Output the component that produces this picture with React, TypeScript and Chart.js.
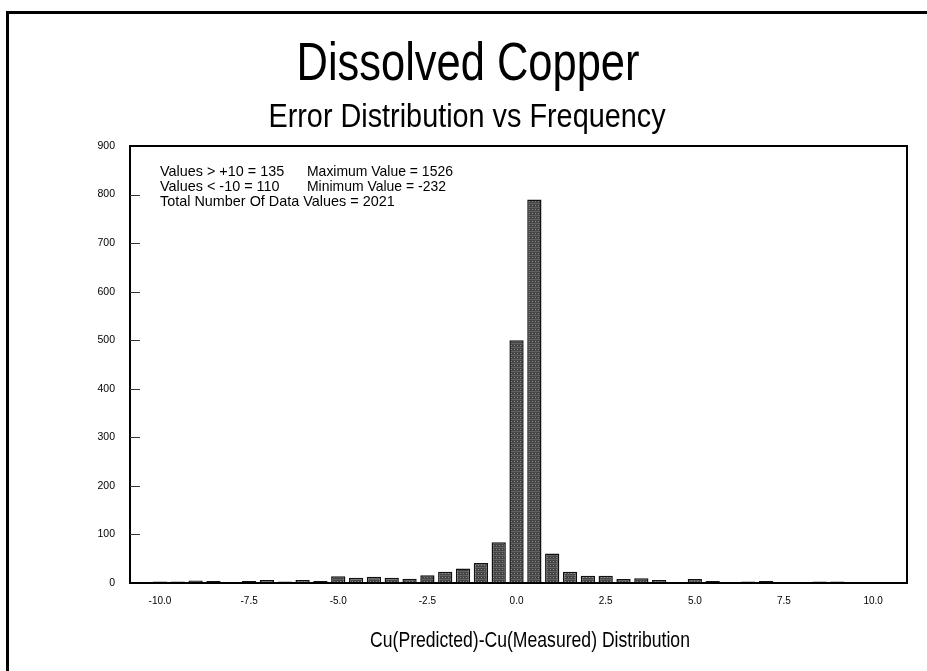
import { useEffect, useRef } from "react";
import { Chart, registerables } from "chart.js";

Chart.register(...registerables);

// Histogram bins (centre of each 0.5-wide bin) and their counts
const binCenters = [
  -10, -9.5, -9, -8.5, -8, -7.5, -7, -6.5, -6, -5.5,
  -5, -4.5, -4, -3.5, -3, -2.5, -2, -1.5, -1, -0.5,
  0, 0.5, 1, 1.5, 2, 2.5, 3, 3.5, 4, 4.5,
  5, 5.5, 6, 6.5, 7, 7.5, 8, 8.5, 9, 9.5, 10,
];
const frequencies = [
  3, 3, 5, 4, 1, 4, 6, 3, 6, 4,
  14, 11, 13, 11, 9, 16, 23, 30, 41, 84,
  500, 790, 61, 23, 15, 15, 8, 10, 6, 1,
  8, 4, 1, 3, 4, 1, 1, 3, 3, 1, 1,
];

const xTickValues = [-10, -7.5, -5, -2.5, 0, 2.5, 5, 7.5, 10];
const yTickValues = [0, 100, 200, 300, 400, 500, 600, 700, 800, 900];

const titleText = "Dissolved Copper";
const subtitleText = "Error Distribution vs Frequency";
const xAxisTitle = "Cu(Predicted)-Cu(Measured) Distribution";
const summaryLeft = ["Values > +10 = 135", "Values < -10 = 110", "Total Number Of Data Values = 2021"];
const summaryRight = ["Maximum Value = 1526", "Minimum Value = -232", ""];

const FONT = '"Liberation Sans", Arial, sans-serif';

function makeBarPattern(): CanvasPattern | string {
  const tile = document.createElement("canvas");
  tile.width = 3;
  tile.height = 4;
  const t = tile.getContext("2d");
  if (!t) return "#555";
  t.fillStyle = "#454545";
  t.fillRect(0, 0, 3, 4);
  t.fillStyle = "#8a8a8a";
  t.fillRect(1, 1, 1, 1);
  t.fillStyle = "#626262";
  t.fillRect(0, 3, 3, 1);
  const ctx = document.createElement("canvas").getContext("2d");
  const p = ctx ? ctx.createPattern(tile, "repeat") : null;
  return p || "#555";
}

function drawCondensed(
  ctx: CanvasRenderingContext2D,
  text: string,
  x: number,
  baseline: number,
  size: number,
  sx: number,
  align: CanvasTextAlign
) {
  ctx.save();
  ctx.translate(x, baseline);
  ctx.scale(sx, 1);
  ctx.font = `${size}px ${FONT}`;
  ctx.textAlign = align;
  ctx.textBaseline = "alphabetic";
  ctx.fillStyle = "#000";
  ctx.fillText(text, 0, 0);
  ctx.restore();
}

const decorPlugin = {
  id: "decor",
  beforeDraw(chart: any) {
    const { ctx, width, height } = chart;
    ctx.save();
    ctx.fillStyle = "#fff";
    ctx.fillRect(0, 0, width, height);
    // outer frame (left and top edges visible)
    ctx.strokeStyle = "#000";
    ctx.lineWidth = 3;
    ctx.beginPath();
    ctx.moveTo(7.5, height + 5);
    ctx.lineTo(7.5, 12.5);
    ctx.lineTo(width + 5, 12.5);
    ctx.stroke();
    ctx.restore();
  },
  afterDraw(chart: any) {
    const { ctx, chartArea } = chart;
    const yScale = chart.scales.y;
    ctx.save();
    // plot box
    ctx.strokeStyle = "#000";
    ctx.lineWidth = 2;
    ctx.strokeRect(chartArea.left, chartArea.top, chartArea.right - chartArea.left, chartArea.bottom - chartArea.top);
    // inward y tick marks
    ctx.lineWidth = 1;
    ctx.strokeStyle = "#333";
    yTickValues.slice(1, -1).forEach((v) => {
      const py = Math.round(yScale.getPixelForValue(v)) + 0.5;
      ctx.beginPath();
      ctx.moveTo(chartArea.left, py);
      ctx.lineTo(chartArea.left + 10, py);
      ctx.stroke();
    });
    ctx.restore();

    drawCondensed(ctx, titleText, 468, 80, 53, 0.82, "center");
    drawCondensed(ctx, subtitleText, 467, 127, 33.5, 0.86, "center");
    drawCondensed(ctx, xAxisTitle, 530, 647, 22, 0.8, "center");
    summaryLeft.forEach((s, i) => drawCondensed(ctx, s, 160, 176 + i * 15, 15, 0.96, "left"));
    summaryRight.forEach((s, i) => s && drawCondensed(ctx, s, 307, 176 + i * 15, 15, 0.93, "left"));
  },
};

export default function App() {
  const canvasRef = useRef<HTMLCanvasElement | null>(null);

  useEffect(() => {
    const canvas = canvasRef.current;
    if (!canvas) return;
    const chart = new Chart(canvas, {
      type: "bar",
      data: {
        datasets: [
          {
            data: binCenters.map((x, i) => ({ x, y: frequencies[i] })),
            backgroundColor: makeBarPattern() as any,
            borderColor: "#111",
            borderWidth: 1.5,
            barPercentage: 0.8,
            categoryPercentage: 1,
          },
        ],
      },
      options: {
        responsive: false,
        animation: false,
        layout: { padding: { left: 90, top: 146, right: 20, bottom: 38 } },
        scales: {
          x: {
            type: "linear",
            min: -10.84,
            max: 10.95,
            offset: false,
            grid: { display: false },
            border: { display: false },
            afterBuildTicks: (axis: any) => {
              axis.ticks = xTickValues.map((value) => ({ value }));
            },
            afterFit: (s: any) => {
              s.height = 50;
            },
            ticks: {
              autoSkip: false,
              maxRotation: 0,
              padding: 4,
              color: "#000",
              font: { family: FONT, size: 10 },
              callback: (v: any) => Number(v).toFixed(1),
            },
          },
          y: {
            min: 0,
            max: 900,
            grid: { display: false },
            border: { display: false },
            afterBuildTicks: (axis: any) => {
              axis.ticks = yTickValues.map((value) => ({ value }));
            },
            afterFit: (s: any) => {
              s.width = 40;
            },
            ticks: {
              padding: 7,
              color: "#000",
              font: { family: FONT, size: 10.5 },
            },
          },
        },
        plugins: {
          legend: { display: false },
          tooltip: { enabled: false },
          title: { display: false },
        },
      },
      plugins: [decorPlugin],
    } as any);
    return () => chart.destroy();
  }, []);

  return (
    <div style={{ position: "absolute", left: 0, top: 0, width: 927, height: 671, overflow: "hidden", background: "#fff" }}>
      <canvas ref={canvasRef} width={927} height={671} style={{ display: "block", width: 927, height: 671 }} />
    </div>
  );
}
